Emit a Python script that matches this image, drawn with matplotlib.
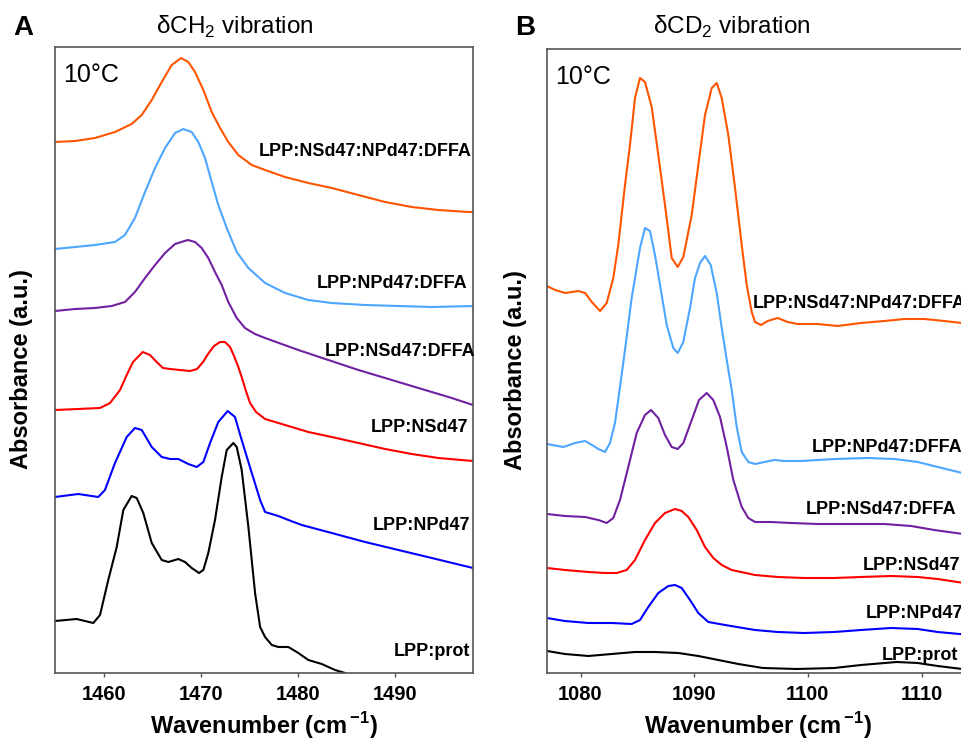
import numpy as np
import matplotlib
matplotlib.use("Agg")
import matplotlib.pyplot as plt

plt.rcParams['font.family'] = ['Liberation Sans', 'DejaVu Sans']
plt.rcParams['mathtext.fontset'] = 'custom'
plt.rcParams['mathtext.rm'] = 'Liberation Sans'
plt.rcParams['mathtext.bf'] = 'Liberation Sans:bold'

# ---- panel A: dCH2 region (wavenumber cm-1, absorbance a.u. with offsets) ----
a_mix_wn = [1454.92, 1456.98, 1459.04, 1461.10, 1462.82, 1463.86, 1464.89, 1465.92, 1466.95, 1467.91,
            1468.66, 1469.35, 1470.21, 1471.07, 1471.93, 1472.78, 1473.81, 1475.20, 1476.57, 1478.63,
            1481.03, 1483.44, 1486.19, 1488.94, 1491.69, 1494.43, 1497.53, 1498.0]
a_mix_abs = [5.31, 5.32, 5.35, 5.41, 5.49, 5.58, 5.73, 5.91, 6.08, 6.15,
             6.11, 6.01, 5.83, 5.61, 5.45, 5.31, 5.18, 5.08, 5.03, 4.96,
             4.90, 4.85, 4.78, 4.71, 4.66, 4.63, 4.61, 4.61]

a_npdffa_wn = [1454.92, 1456.98, 1459.04, 1461.10, 1462.13, 1463.16, 1464.20, 1465.23, 1466.26, 1467.29,
               1468.14, 1469.01, 1469.69, 1470.38, 1471.07, 1471.75, 1472.62, 1473.65, 1474.85, 1476.57,
               1478.63, 1481.03, 1483.44, 1486.87, 1490.31, 1493.75, 1498.0]
a_npdffa_abs = [4.24, 4.26, 4.28, 4.31, 4.38, 4.55, 4.81, 5.05, 5.25, 5.40,
                5.44, 5.41, 5.31, 5.15, 4.91, 4.68, 4.45, 4.21, 4.05, 3.90,
                3.80, 3.73, 3.70, 3.68, 3.67, 3.66, 3.67]

a_nsdffa_wn = [1454.92, 1456.98, 1459.04, 1460.76, 1462.13, 1463.16, 1464.20, 1465.23, 1466.26, 1467.29,
               1468.60, 1469.35, 1470.04, 1470.72, 1471.41, 1472.10, 1472.78, 1473.65, 1474.50, 1475.53,
               1476.57, 1480.00, 1483.09, 1486.19, 1489.63, 1493.06, 1495.81, 1498.0]
a_nsdffa_abs = [3.62, 3.64, 3.65, 3.67, 3.71, 3.81, 3.95, 4.08, 4.20, 4.29,
                4.33, 4.31, 4.25, 4.15, 4.01, 3.88, 3.71, 3.55, 3.45, 3.39,
                3.35, 3.23, 3.13, 3.03, 2.93, 2.83, 2.75, 2.68]

a_ns_wn = [1454.92, 1457.29, 1459.56, 1460.59, 1461.62, 1462.31, 1462.96, 1463.96, 1464.71, 1465.40,
           1466.05, 1466.77, 1467.80, 1468.84, 1469.56, 1470.18, 1470.69, 1471.31, 1471.93, 1472.44,
           1472.96, 1473.37, 1473.78, 1474.19, 1474.60, 1475.02, 1475.64, 1476.57, 1478.63, 1481.03,
           1483.44, 1486.19, 1488.94, 1491.69, 1494.43, 1498.0]
a_ns_abs = [2.63, 2.64, 2.65, 2.70, 2.83, 2.98, 3.11, 3.21, 3.18, 3.11,
            3.05, 3.04, 3.03, 3.02, 3.04, 3.11, 3.19, 3.27, 3.31, 3.31,
            3.26, 3.17, 3.07, 2.95, 2.82, 2.70, 2.61, 2.54, 2.48, 2.41,
            2.36, 2.30, 2.24, 2.19, 2.15, 2.12]

a_np_wn = [1454.92, 1457.32, 1459.38, 1460.07, 1461.10, 1462.31, 1463.16, 1463.86, 1464.89, 1465.92,
           1466.78, 1467.63, 1468.66, 1469.53, 1470.21, 1470.90, 1471.75, 1472.72, 1473.47, 1474.16,
           1475.20, 1476.06, 1476.57, 1477.94, 1478.97, 1480.35, 1483.44, 1486.88, 1490.31, 1493.75,
           1498.0]
a_np_abs = [1.76, 1.79, 1.76, 1.83, 2.10, 2.36, 2.45, 2.43, 2.26, 2.16,
            2.14, 2.14, 2.09, 2.06, 2.11, 2.30, 2.51, 2.62, 2.56, 2.33,
            2.00, 1.73, 1.61, 1.57, 1.53, 1.48, 1.40, 1.31, 1.23, 1.15,
            1.05]

a_prot_wn = [1454.92, 1457.15, 1458.87, 1459.56, 1460.41, 1461.28, 1461.96, 1462.82, 1463.34, 1464.02,
             1464.89, 1465.92, 1466.60, 1467.63, 1468.32, 1469.01, 1469.76, 1470.21, 1470.72, 1471.41,
             1472.10, 1472.62, 1473.30, 1473.65, 1474.16, 1474.85, 1475.54, 1476.06, 1476.57, 1477.26,
             1477.94, 1478.97, 1480.00, 1481.03, 1482.41, 1483.78, 1484.82, 1486.0]
a_prot_abs = [0.52, 0.54, 0.50, 0.58, 0.93, 1.26, 1.63, 1.77, 1.75, 1.60,
              1.30, 1.13, 1.11, 1.14, 1.11, 1.05, 1.00, 1.03, 1.20, 1.53,
              1.96, 2.23, 2.30, 2.26, 2.03, 1.46, 0.80, 0.46, 0.36, 0.28,
              0.26, 0.26, 0.20, 0.13, 0.09, 0.03, 0.00, -0.08]

# ---- panel B: dCD2 region ----
b_mix_wn = [1077.05, 1077.76, 1078.64, 1079.81, 1080.40, 1080.99, 1081.72, 1082.30, 1082.88, 1083.32,
            1083.91, 1084.35, 1084.79, 1085.23, 1085.67, 1086.26, 1086.84, 1087.43, 1088.02, 1088.55,
            1089.04, 1089.78, 1090.36, 1090.95, 1091.54, 1091.98, 1092.42, 1093.00, 1093.59, 1094.18,
            1094.62, 1095.06, 1095.35, 1095.88, 1096.46, 1097.34, 1098.22, 1099.10, 1100.86, 1102.62,
            1104.67, 1106.72, 1108.48, 1110.24, 1112.00, 1114.3]
b_mix_abs = [3.87, 3.83, 3.80, 3.82, 3.80, 3.71, 3.62, 3.70, 3.95, 4.28,
             4.88, 5.28, 5.75, 5.95, 5.91, 5.66, 5.18, 4.68, 4.15, 4.06,
             4.16, 4.58, 5.08, 5.58, 5.85, 5.90, 5.75, 5.38, 4.85, 4.28,
             3.88, 3.61, 3.51, 3.48, 3.52, 3.55, 3.51, 3.49, 3.49, 3.47,
             3.50, 3.52, 3.54, 3.54, 3.52, 3.49]

b_npdffa_wn = [1077.05, 1078.49, 1079.52, 1080.40, 1081.01, 1081.57, 1082.15, 1082.59, 1083.03, 1083.47,
               1083.91, 1084.50, 1085.23, 1085.67, 1086.11, 1086.55, 1087.14, 1087.58, 1088.16, 1088.55,
               1089.04, 1089.63, 1090.07, 1090.51, 1090.95, 1091.45, 1091.98, 1092.42, 1092.86, 1093.30,
               1093.74, 1094.18, 1094.76, 1095.35, 1096.17, 1097.05, 1097.92, 1099.39, 1102.32, 1105.26,
               1107.60, 1109.66, 1111.42, 1114.3]
b_npdffa_abs = [2.29, 2.26, 2.30, 2.32, 2.28, 2.24, 2.21, 2.30, 2.50, 2.86,
                3.23, 3.75, 4.25, 4.45, 4.42, 4.18, 3.78, 3.48, 3.25, 3.20,
                3.31, 3.65, 3.95, 4.10, 4.17, 4.08, 3.80, 3.45, 3.13, 2.83,
                2.46, 2.21, 2.11, 2.09, 2.11, 2.13, 2.12, 2.12, 2.14, 2.15,
                2.14, 2.11, 2.06, 1.98]

b_nsdffa_wn = [1077.05, 1078.63, 1080.40, 1081.57, 1082.30, 1082.88, 1083.47, 1084.20, 1084.94, 1085.67,
               1086.20, 1086.84, 1087.43, 1088.02, 1088.55, 1089.04, 1089.78, 1090.42, 1091.10, 1091.68,
               1092.27, 1092.86, 1093.44, 1094.18, 1094.76, 1095.35, 1096.76, 1098.51, 1100.86, 1103.79,
               1106.72, 1109.07, 1111.12, 1114.3]
b_nsdffa_abs = [1.59, 1.57, 1.56, 1.53, 1.50, 1.55, 1.73, 2.06, 2.40, 2.58,
                2.63, 2.55, 2.38, 2.26, 2.24, 2.30, 2.53, 2.73, 2.80, 2.73,
                2.56, 2.26, 1.93, 1.66, 1.55, 1.51, 1.51, 1.50, 1.49, 1.49,
                1.49, 1.47, 1.43, 1.38]

b_ns_wn = [1077.05, 1078.63, 1080.69, 1082.15, 1083.18, 1084.06, 1084.79, 1085.67, 1086.55, 1087.43,
           1088.31, 1088.90, 1089.48, 1090.22, 1090.95, 1091.68, 1092.42, 1093.30, 1095.35, 1097.34,
           1099.68, 1102.32, 1104.67, 1107.31, 1109.66, 1111.42, 1114.3]
b_ns_abs = [1.05, 1.03, 1.01, 1.00, 1.00, 1.03, 1.13, 1.33, 1.50, 1.60,
            1.64, 1.62, 1.56, 1.43, 1.26, 1.15, 1.08, 1.03, 0.98, 0.96,
            0.95, 0.95, 0.96, 0.97, 0.96, 0.94, 0.89]

b_np_wn = [1077.05, 1078.63, 1080.69, 1082.74, 1084.50, 1085.23, 1085.96, 1086.84, 1087.72, 1088.31,
           1088.90, 1089.63, 1090.36, 1091.24, 1092.71, 1095.35, 1097.34, 1099.68, 1102.32, 1104.67,
           1107.31, 1109.66, 1111.42, 1114.3]
b_np_abs = [0.55, 0.52, 0.50, 0.50, 0.49, 0.53, 0.66, 0.80, 0.87, 0.88,
            0.85, 0.73, 0.60, 0.51, 0.48, 0.43, 0.41, 0.40, 0.41, 0.43,
            0.45, 0.44, 0.41, 0.38]

b_prot_wn = [1077.05, 1078.63, 1080.69, 1082.74, 1084.79, 1086.55, 1088.60, 1090.36, 1092.12, 1093.88,
             1096.05, 1099.02, 1102.32, 1104.67, 1107.81, 1109.66, 1111.42, 1114.3]
b_prot_abs = [0.22, 0.19, 0.17, 0.19, 0.21, 0.21, 0.20, 0.17, 0.13, 0.09,
              0.05, 0.04, 0.05, 0.08, 0.11, 0.10, 0.07, 0.03]

labels = ['LPP:NSd47:NPd47:DFFA', 'LPP:NPd47:DFFA', 'LPP:NSd47:DFFA',
          'LPP:NSd47', 'LPP:NPd47', 'LPP:prot']
colors = ['#FF5500', '#4DA6FF', '#7020A0', '#FF0000', '#0000FF', '#000000']

a_series = [(a_mix_wn, a_mix_abs), (a_npdffa_wn, a_npdffa_abs), (a_nsdffa_wn, a_nsdffa_abs),
            (a_ns_wn, a_ns_abs), (a_np_wn, a_np_abs), (a_prot_wn, a_prot_abs)]
b_series = [(b_mix_wn, b_mix_abs), (b_npdffa_wn, b_npdffa_abs), (b_nsdffa_wn, b_nsdffa_abs),
            (b_ns_wn, b_ns_abs), (b_np_wn, b_np_abs), (b_prot_wn, b_prot_abs)]

a_ticks = [1460, 1470, 1480, 1490]
b_ticks = [1080, 1090, 1100, 1110]

# label anchor positions (layout only)
a_label_pos = [(1497.9, 5.22), (1497.4, 3.89), (1498.2, 3.22), (1497.5, 2.46), (1497.7, 1.48), (1497.7, 0.21)]
b_label_pos = [(1095.15, 3.70), (1100.33, 2.26), (1099.83, 1.63), (1104.82, 1.08), (1105.11, 0.59), (1106.49, 0.18)]

W, H = 961, 744
fig = plt.figure(figsize=(W / 100, H / 100), dpi=100)

axA = fig.add_axes([55 / W, (H - 673) / H, (473 - 55) / W, (673 - 47) / H])
axB = fig.add_axes([547 / W, (H - 673) / H, (970 - 547) / W, (673 - 49) / H])

spine_col = '#555555'
for ax, series, ticks in [(axA, a_series, a_ticks), (axB, b_series, b_ticks)]:
    for (wn, ab), c in zip(series, colors):
        ax.plot(wn, ab, color=c, lw=1.5, solid_joinstyle='round')
    ax.set_xticks(ticks)
    ax.set_yticks([])
    for lab in ax.get_xticklabels():
        lab.set_fontweight('bold')
    ax.tick_params(axis='x', direction='out', length=3, width=1, color=spine_col,
                   labelsize=14.5, pad=6)
    for s in ax.spines.values():
        s.set_color(spine_col)
        s.set_linewidth(1.2)
    ax.set_xlabel('Wavenumber (cm$^{\\,\\mathbf{-1}}$)', fontsize=17, fontweight='bold', labelpad=4)
    ax.set_ylabel('Absorbance (a.u.)', fontsize=17, fontweight='bold')
    ax.text(0.02, 0.975, '10°C', transform=ax.transAxes, fontsize=18, ha='left', va='top')

axA.set_xlim(1454.92, 1498.0)
axA.set_ylim(0, 6.26)
axB.set_xlim(1077.05, 1114.26)
axB.set_ylim(0, 6.24)

axA.yaxis.set_label_coords(-22 / 418, 0.485)
axB.yaxis.set_label_coords(-20 / 423, 0.485)

for lab, (x, y) in zip(labels, a_label_pos):
    axA.text(x, y, lab, fontsize=13, fontweight='bold', ha='right', va='center')
for lab, (x, y) in zip(labels, b_label_pos):
    axB.text(x, y, lab, fontsize=13, fontweight='bold', ha='left', va='center')

fig.text(235 / W, 1 - 27 / H, 'δCH$_2$ vibration', fontsize=17.5, ha='center', va='center')
fig.text(732 / W, 1 - 27 / H, 'δCD$_2$ vibration', fontsize=17.5, ha='center', va='center')
fig.text(13 / W, 1 - 28 / H, 'A', fontsize=20, fontweight='bold', ha='left', va='center')
fig.text(515 / W, 1 - 28 / H, 'B', fontsize=20, fontweight='bold', ha='left', va='center')

fig.savefig('out.png', dpi=100)
